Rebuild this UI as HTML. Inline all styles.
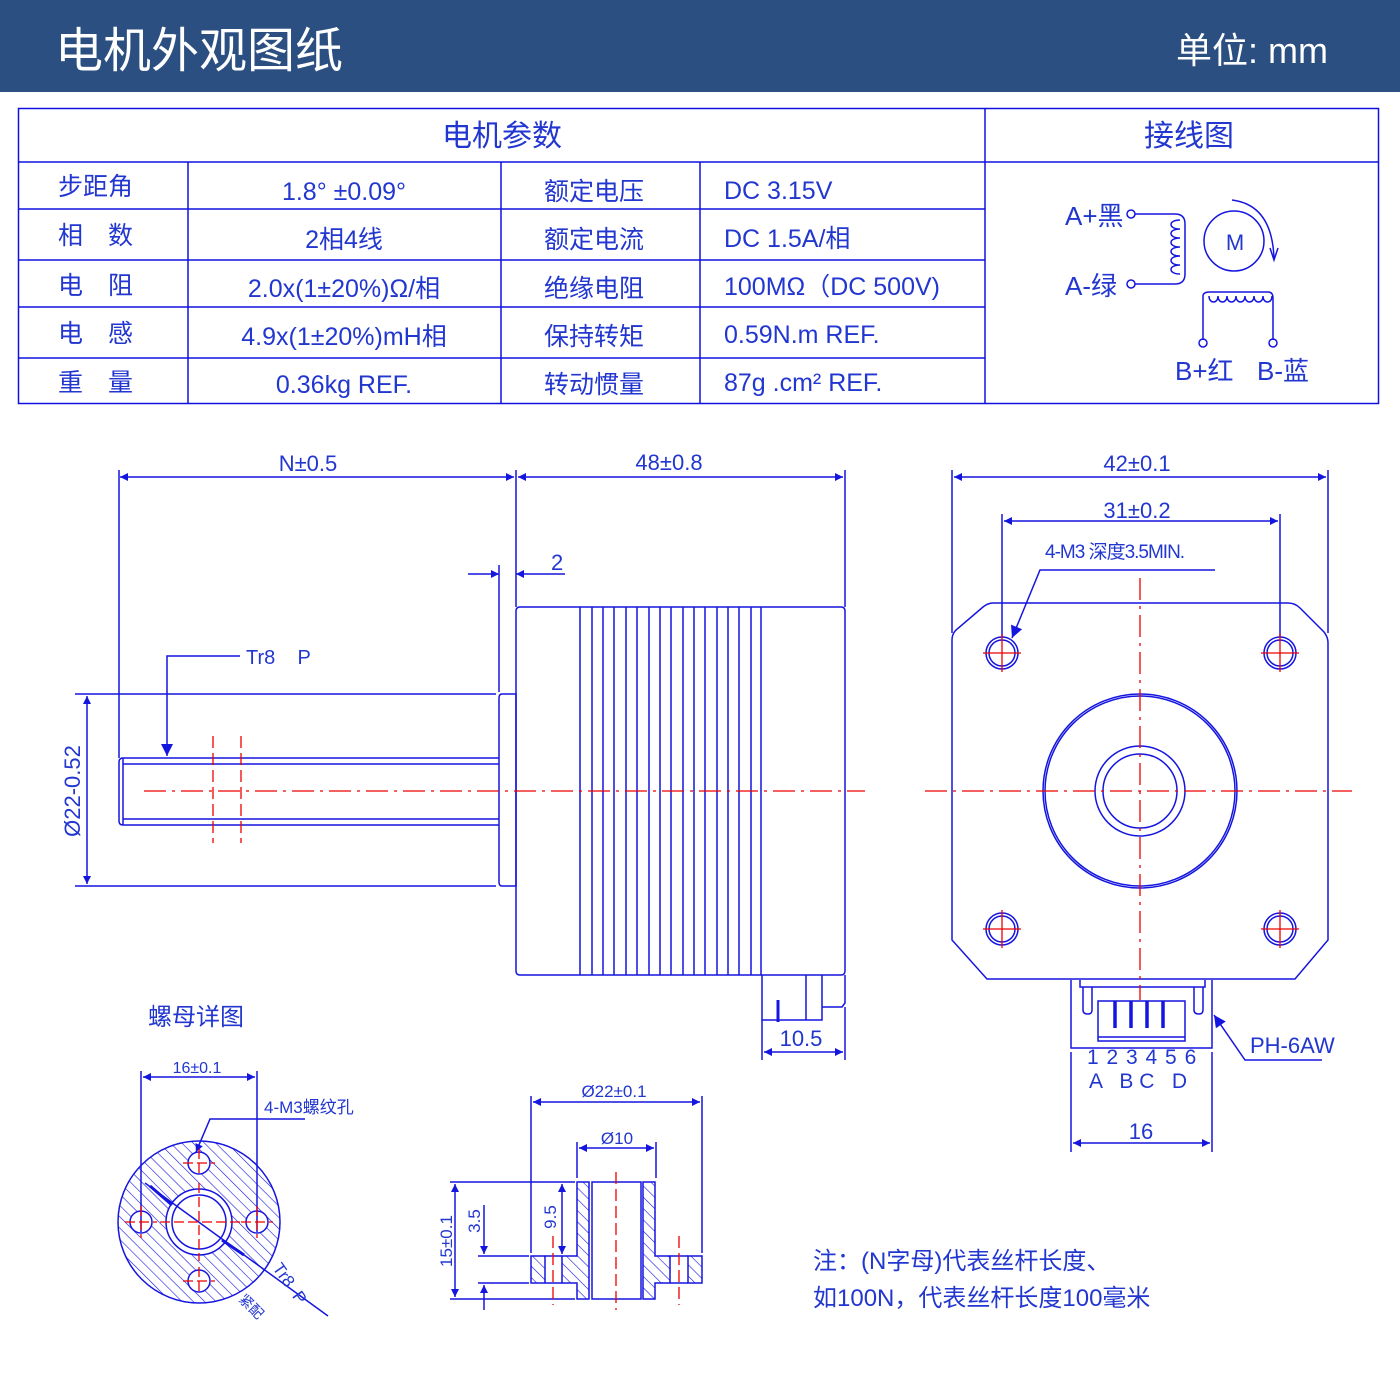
<!DOCTYPE html>
<html><head><meta charset="utf-8"><style>
html,body{margin:0;padding:0;background:#fff}
svg{display:block}
text{font-family:"Liberation Sans","Noto Sans CJK SC",sans-serif}
</style></head><body>
<svg width="1400" height="1400" viewBox="0 0 1400 1400" xmlns="http://www.w3.org/2000/svg">
<defs>
<pattern id="h" patternUnits="userSpaceOnUse" width="8" height="8" patternTransform="rotate(-45)">
<line x1="0" y1="0" x2="0" y2="8" stroke="#1515e0" stroke-width="1.2"/>
</pattern>
<marker id="a" viewBox="0 0 10 10" refX="10" refY="5" markerWidth="16" markerHeight="8" markerUnits="userSpaceOnUse" orient="auto-start-reverse">
<path d="M0,0 L10,5 L0,10 z" fill="#1515e0"/>
</marker>
<marker id="b" viewBox="0 0 10 10" refX="10" refY="5" markerWidth="26" markerHeight="12" markerUnits="userSpaceOnUse" orient="auto-start-reverse">
<path d="M0,0 L10,5 L0,10 z" fill="#1515e0"/>
</marker>
</defs>
<rect x="0" y="0" width="1400" height="92" fill="#2c4f82"/>
<text x="55" y="67" font-size="48" fill="#fff">电机外观图纸</text>
<text x="1328" y="63" font-size="36" fill="#fff" text-anchor="end">单位: mm</text>

<g stroke="#1010e0" stroke-width="1.5" fill="none">
<rect x="18.5" y="108.5" width="1360" height="295"/>
<line x1="18" y1="162" x2="1378" y2="162"/>
<line x1="18" y1="209" x2="985" y2="209"/>
<line x1="18" y1="260" x2="985" y2="260"/>
<line x1="18" y1="307" x2="985" y2="307"/>
<line x1="18" y1="358" x2="985" y2="358"/>
<line x1="188" y1="162" x2="188" y2="403"/>
<line x1="501" y1="162" x2="501" y2="403"/>
<line x1="700" y1="162" x2="700" y2="403"/>
<line x1="985" y1="108" x2="985" y2="403"/>
</g>
<g font-size="25" fill="#2236d0" xml:space="preserve">
<text x="502" y="146" text-anchor="middle" font-size="30">电机参数</text>
<text x="1189" y="146" text-anchor="middle" font-size="30">接线图</text>
<text x="58" y="195">步距角</text>
<text x="58" y="244">相　数</text>
<text x="58" y="294">电　阻</text>
<text x="58" y="342">电　感</text>
<text x="58" y="391">重　量</text>
<text x="344" y="200" text-anchor="middle">1.8°  ±0.09°</text>
<text x="344" y="248" text-anchor="middle">2相4线</text>
<text x="344" y="297" text-anchor="middle">2.0x(1±20%)Ω/相</text>
<text x="344" y="345" text-anchor="middle">4.9x(1±20%)mH相</text>
<text x="344" y="393" text-anchor="middle">0.36kg  REF.</text>
<text x="594" y="200" text-anchor="middle">额定电压</text>
<text x="594" y="248" text-anchor="middle">额定电流</text>
<text x="594" y="297" text-anchor="middle">绝缘电阻</text>
<text x="594" y="345" text-anchor="middle">保持转矩</text>
<text x="594" y="393" text-anchor="middle">转动惯量</text>
<text x="724" y="199">DC  3.15V</text>
<text x="724" y="247">DC  1.5A/相</text>
<text x="724" y="295">100MΩ（DC  500V)</text>
<text x="724" y="343">0.59N.m  REF.</text>
<text x="724" y="391">87g .cm²  REF.</text>
</g>

<!-- wiring -->
<g stroke="#1515e0" stroke-width="1.5" fill="none">
<circle cx="1131" cy="214" r="4"/>
<circle cx="1131" cy="284" r="4"/>
<path d="M1135,214 H1175 Q1185,214 1185,224 V274 Q1185,284 1175,284 H1135"/>
<path d="M1180,220 c-12,0 -12,9 0,9 c-12,0 -12,9 0,9 c-12,0 -12,9 0,9 c-12,0 -12,9 0,9 c-12,0 -12,9 0,9 c-12,0 -12,9 0,9"/>
<circle cx="1234" cy="241" r="30"/>
<path d="M1232,200 Q1272,205 1274,258"/>
<path d="M1270,248 L1274,260 L1278,248"/>
<path d="M1203,340 V296 Q1203,292 1210,292 H1268 Q1273,292 1273,298 V340"/>
<path d="M1209,296 c0,8 9,8 9,0 c0,8 9,8 9,0 c0,8 9,8 9,0 c0,8 9,8 9,0 c0,8 9,8 9,0 c0,8 9,8 9,0 c0,8 9,8 9,0"/>
<circle cx="1203" cy="343" r="4"/>
<circle cx="1273" cy="343" r="4"/>
</g>
<g fill="#2236d0" font-size="26">
<text x="1065" y="225">A+黑</text>
<text x="1065" y="295">A-绿</text>
<text x="1175" y="380">B+红</text>
<text x="1257" y="380">B-蓝</text>
<text x="1235" y="250" text-anchor="middle" font-size="22">M</text>
</g>

<!-- side view -->
<g stroke="#1515e0" stroke-width="1.5" fill="none">
<line x1="119" y1="470" x2="119" y2="758"/>
<line x1="516" y1="470" x2="516" y2="607"/>
<line x1="845" y1="470" x2="845" y2="607"/>
<line x1="120" y1="477" x2="514" y2="477" marker-start="url(#a)" marker-end="url(#a)"/>
<line x1="518" y1="477" x2="843" y2="477" marker-start="url(#a)" marker-end="url(#a)"/>
<line x1="499" y1="565" x2="499" y2="692"/>
<line x1="468" y1="574" x2="499" y2="574" marker-end="url(#a)"/>
<line x1="565" y1="574" x2="516" y2="574" marker-end="url(#a)"/>
<path d="M520,607 H841 Q845,607 845,611 V971 Q845,975 841,975 H520 Q516,975 516,971 V611 Q516,607 520,607 Z"/>
<path d="M580,607V975M592,607V975M603,607V975M614,607V975M626,607V975M637,607V975M649,607V975M660,607V975M671,607V975M683,607V975M694,607V975M705,607V975M717,607V975M728,607V975M739,607V975M751,607V975M761,607V975"/>
<path d="M502,694 H516 V886 H502 Q499,886 499,882 V698 Q499,694 502,694"/>
<line x1="75" y1="694" x2="496" y2="694"/>
<line x1="75" y1="886" x2="496" y2="886"/>
<line x1="87" y1="696" x2="87" y2="884" marker-start="url(#a)" marker-end="url(#a)"/>
<path d="M499,758 H123 Q119,758 119,762 V821 Q119,825 123,825 H499"/>
<line x1="123" y1="764" x2="499" y2="764"/>
<line x1="123" y1="819" x2="499" y2="819"/>
<line x1="123" y1="758" x2="123" y2="825"/>
<path d="M240,656 H167 V756" marker-end="url(#b)"/>
<path d="M762,975 V1020 H822 V975 M806,975 V1020 M822,985 V1007 H842 L845,1003 V975"/>
<line x1="778" y1="1000" x2="778" y2="1022" stroke-width="3"/>
<line x1="762" y1="1020" x2="762" y2="1060"/>
<line x1="845" y1="1007" x2="845" y2="1060"/>
<line x1="764" y1="1052" x2="843" y2="1052" marker-start="url(#a)" marker-end="url(#a)"/>
</g>
<g stroke="#e00" stroke-width="1.3" fill="none" stroke-dasharray="22,6,3,6">
<line x1="144" y1="791" x2="865" y2="791"/>
</g>
<g stroke="#e00" stroke-width="1.3" stroke-dasharray="12,5">
<line x1="213" y1="736" x2="213" y2="843"/>
<line x1="241" y1="736" x2="241" y2="843"/>
</g>
<g fill="#2236d0" font-size="22">
<text x="308" y="471" text-anchor="middle">N±0.5</text>
<text x="669" y="470" text-anchor="middle">48±0.8</text>
<text x="551" y="570">2</text>
<text x="246" y="664" font-size="20" xml:space="preserve">Tr8    P</text>
<text x="80" y="791" text-anchor="middle" transform="rotate(-90 80 791)">Ø22-0.52</text>
<text x="801" y="1046" text-anchor="middle">10.5</text>
</g>

<!-- front view -->
<g stroke="#1515e0" stroke-width="1.5" fill="none">
<line x1="952" y1="470" x2="952" y2="633"/>
<line x1="1328" y1="470" x2="1328" y2="633"/>
<line x1="954" y1="477" x2="1326" y2="477" marker-start="url(#a)" marker-end="url(#a)"/>
<line x1="1002" y1="514" x2="1002" y2="637"/>
<line x1="1280" y1="514" x2="1280" y2="637"/>
<line x1="1004" y1="521" x2="1278" y2="521" marker-start="url(#a)" marker-end="url(#a)"/>
<path d="M1215,570 H1040 L1012,638" marker-end="url(#b)"/>
<path d="M993,603 H1288 Q1295,603 1300,608 L1324,632 Q1328,637 1328,643 V940 L1295,979 H987 L952,940 V640 Q952,634 956,630 L983,607 Q988,603 993,603 Z"/>
<circle cx="1140" cy="791" r="97"/>
<circle cx="1140" cy="791" r="95"/>
<circle cx="1140" cy="791" r="45"/>
<circle cx="1140" cy="791" r="37"/>
<circle cx="1002" cy="653" r="16"/><circle cx="1002" cy="653" r="13"/>
<circle cx="1280" cy="653" r="16"/><circle cx="1280" cy="653" r="13"/>
<circle cx="1002" cy="929" r="16"/><circle cx="1002" cy="929" r="13"/>
<circle cx="1280" cy="929" r="16"/><circle cx="1280" cy="929" r="13"/>
<path d="M1071,980 V1048 H1212 V980"/>
<path d="M1080,980 V987 H1205 V980"/>
<path d="M1083,987 V1010 Q1083,1014 1088,1014 Q1092,1014 1092,1010 V987"/>
<path d="M1194,987 V1010 Q1194,1014 1199,1014 Q1203,1014 1203,1010 V987"/>
<rect x="1098" y="1001" width="87" height="40"/>
<line x1="1098" y1="1037" x2="1185" y2="1037"/>
<line x1="1071" y1="1052" x2="1071" y2="1152"/>
<line x1="1212" y1="1052" x2="1212" y2="1152"/>
<line x1="1073" y1="1143" x2="1210" y2="1143" marker-start="url(#a)" marker-end="url(#a)"/>
<path d="M1322,1060 H1245 L1214,1015" marker-end="url(#b)"/>
</g>
<g stroke="#1515e0" stroke-width="3.5">
<line x1="1115" y1="1001" x2="1115" y2="1028"/>
<line x1="1131" y1="1001" x2="1131" y2="1028"/>
<line x1="1147" y1="1001" x2="1147" y2="1028"/>
<line x1="1163" y1="1001" x2="1163" y2="1028"/>
</g>
<g stroke="#e00" stroke-width="1.3" stroke-dasharray="22,6,3,6">
<line x1="925" y1="791" x2="1352" y2="791"/>
<line x1="1140" y1="578" x2="1140" y2="1000"/>
</g>
<g stroke="#e00" stroke-width="1.3">
<path d="M983,653H1021M1002,634V672M1261,653H1299M1280,634V672M983,929H1021M1002,910V948M1261,929H1299M1280,910V948"/>
</g>
<g fill="#2236d0" font-size="22">
<text x="1137" y="471" text-anchor="middle">42±0.1</text>
<text x="1137" y="518" text-anchor="middle">31±0.2</text>
<text x="1045" y="558" font-size="19" letter-spacing="-1">4-M3 深度3.5MIN.</text>
<text x="1250" y="1053">PH-6AW</text>
<text x="1087" y="1064" font-size="21" letter-spacing="1">1 2 3 4 5 6</text>
<text x="1089" y="1088" font-size="21" xml:space="preserve">A   B C   D</text>
<text x="1141" y="1139" text-anchor="middle">16</text>
</g>

<!-- nut detail -->
<text x="148" y="1025" font-size="24" fill="#2236d0">螺母详图</text>
<g stroke="#1515e0" stroke-width="1.5">
<circle cx="199" cy="1222" r="81" fill="url(#h)"/>
<circle cx="199" cy="1222" r="33" fill="#fff"/>
<circle cx="199" cy="1222" r="27" fill="none"/>
<circle cx="199" cy="1163" r="11" fill="#fff"/>
<circle cx="141" cy="1222" r="11" fill="#fff"/>
<circle cx="257" cy="1222" r="11" fill="#fff"/>
<circle cx="199" cy="1281" r="11" fill="#fff"/>
<g fill="none">
<line x1="141" y1="1071" x2="141" y2="1232"/>
<line x1="257" y1="1071" x2="257" y2="1232"/>
<line x1="143" y1="1077" x2="255" y2="1077" marker-start="url(#a)" marker-end="url(#a)"/>
<path d="M305,1119 H210 L196,1152" marker-end="url(#a)"/>
<line x1="145" y1="1183" x2="328" y2="1316"/>
</g>
</g>
<path d="M150,1186 L172,1205 M222,1240 L244,1255" stroke="#1515e0" stroke-width="3"/>
<g stroke="#e00" stroke-width="1.3" stroke-dasharray="10,4">
<path d="M160,1222H240M199,1183V1261M183,1163H215M199,1149V1177M125,1222H157M141,1206V1238M241,1222H273M257,1206V1238M183,1281H215M199,1267V1295"/>
</g>
<g fill="#2236d0">
<text x="197" y="1073" font-size="16" text-anchor="middle">16±0.1</text>
<text x="264" y="1113" font-size="17">4-M3螺纹孔</text>
<text x="272" y="1268" font-size="17" transform="rotate(55 272 1268)" xml:space="preserve">Tr8  P</text>
<text x="238" y="1300" font-size="14" transform="rotate(45 238 1300)">紧配</text>
</g>

<!-- nut section -->
<g stroke="#1515e0" stroke-width="1.5">
<path d="M577,1182 H589 V1299 H577 V1283 H562 V1256 H577 Z" fill="url(#h)"/>
<path d="M643,1182 H655 V1256 H670 V1283 H655 V1299 H643 Z" fill="url(#h)"/>
<rect x="531" y="1256" width="14" height="27" fill="url(#h)"/>
<rect x="688" y="1256" width="14" height="27" fill="url(#h)"/>
<rect x="592" y="1182" width="49" height="117" fill="none"/>
<path d="M545,1256H562M545,1283H562M670,1256H688M670,1283H688" fill="none"/>
<g fill="none">
<line x1="531" y1="1096" x2="531" y2="1253"/>
<line x1="702" y1="1096" x2="702" y2="1253"/>
<line x1="533" y1="1102" x2="700" y2="1102" marker-start="url(#a)" marker-end="url(#a)"/>
<line x1="577" y1="1142" x2="577" y2="1178"/>
<line x1="656" y1="1142" x2="656" y2="1178"/>
<line x1="579" y1="1148" x2="654" y2="1148" marker-start="url(#a)" marker-end="url(#a)"/>
<line x1="450" y1="1182" x2="575" y2="1182"/>
<line x1="450" y1="1299" x2="575" y2="1299"/>
<line x1="455" y1="1184" x2="455" y2="1297" marker-start="url(#a)" marker-end="url(#a)"/>
<line x1="478" y1="1256" x2="529" y2="1256"/>
<line x1="478" y1="1283" x2="529" y2="1283"/>
<line x1="484" y1="1205" x2="484" y2="1254" marker-end="url(#a)"/>
<line x1="484" y1="1310" x2="484" y2="1285" marker-end="url(#a)"/>
<line x1="562" y1="1184" x2="562" y2="1254" marker-start="url(#a)" marker-end="url(#a)"/>
</g>
</g>
<g stroke="#e00" stroke-width="1.3" stroke-dasharray="12,5">
<line x1="616" y1="1172" x2="616" y2="1310"/>
<line x1="553" y1="1236" x2="553" y2="1305"/>
<line x1="679" y1="1236" x2="679" y2="1305"/>
</g>
<g fill="#2236d0" font-size="17">
<text x="614" y="1097" text-anchor="middle">Ø22±0.1</text>
<text x="617" y="1144" text-anchor="middle">Ø10</text>
<text x="452" y="1241" text-anchor="middle" transform="rotate(-90 452 1241)">15±0.1</text>
<text x="480" y="1221" text-anchor="middle" transform="rotate(-90 480 1221)">3.5</text>
<text x="556" y="1217" text-anchor="middle" transform="rotate(-90 556 1217)">9.5</text>
</g>

<g fill="#2236d0" font-size="24">
<text x="813" y="1269">注：(N字母)代表丝杆长度、</text>
<text x="813" y="1306">如100N，代表丝杆长度100毫米</text>
</g>
</svg>
</body></html>
